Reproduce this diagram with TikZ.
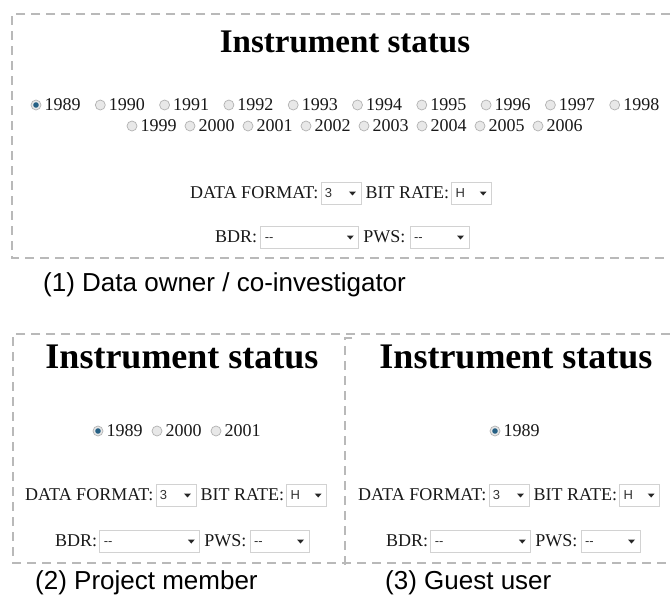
\documentclass[tikz,border=0pt]{standalone}
\usepackage{fontspec}
\setmainfont{Liberation Serif}
\setsansfont{Liberation Sans}
\usetikzlibrary{positioning}
\definecolor{radioblue}{RGB}{38,96,132}

\begin{document}
\begin{tikzpicture}
  [x=1pt, y=-1pt,
   frame/.style={draw=gray!55, line width=1.5pt, dash pattern=on 9pt off 6pt},
   title/.style={font=\bfseries\fontsize{#1}{#1}\selectfont, inner sep=0pt},
   lbl/.style={font=\fontsize{18}{18}\selectfont, inner sep=0pt, text=black!90},
   radio/.style={circle, draw=gray!60, fill=gray!18, line width=.7pt, minimum size=10pt, inner sep=0pt},
   radioon/.style={radio, path picture={\fill[radioblue] (path picture bounding box.center) circle (2.8pt);}},
   sel/.style={draw=gray!35, line width=.8pt, fill=white, minimum height=22pt, inner xsep=4pt, inner ysep=0pt,
     text width=#1, text height=9.5pt, text depth=0pt, font=\sffamily\fontsize{13}{13}\selectfont, text=black!80,
     path picture={\fill[black!85] ([xshift=-12pt, yshift=1.5pt]path picture bounding box.east) -- ++(7pt,0pt) -- ++(-3.5pt,-4pt) -- cycle;}},
   caption/.style={font=\sffamily\fontsize{26}{26}\selectfont, inner sep=0pt, anchor=west}]
  \path[use as bounding box, fill=white] (0,0) rectangle (670,603);

  % dashed screenshot frames
  \draw[frame] (670,14) -- (12,14) -- (12,258) -- (670,258);
  \draw[frame] (670,334) -- (13,334) -- (13,563) -- (670,563);
  \draw[frame] (352,338) -- (345,338) -- (345,566);

  % (1) data owner
  \node[title=33] (ttlA) at (345,42) {Instrument status};
  \node[radioon] (ra1989) at (36,105) {};
  \node[lbl, right=3pt of ra1989] (ya1989) {1989};
  \foreach \yr [count=\i] in {1990,...,1998} {
    \node[radio] (ra\yr) at ({36+64.3*\i},105) {};
    \node[lbl, right=3pt of ra\yr] (ya\yr) {\yr};
  }
  \foreach \yr [count=\i from 0] in {1999,...,2006} {
    \node[radio] (ra\yr) at ({132+58*\i},126) {};
    \node[lbl, right=3pt of ra\yr] (ya\yr) {\yr};
  }
  \node[lbl, anchor=west] (dfA) at (190,193) {DATA FORMAT:};
  \node[sel=32pt, right=2pt of dfA] (fmtA) {3};
  \node[lbl, right=4pt of fmtA] (brA) {BIT RATE:};
  \node[sel=32pt, right=2pt of brA] (rateA) {H};
  \node[lbl, anchor=west] (bdrA) at (215,237) {BDR:};
  \node[sel=90pt, right=3pt of bdrA] (bdrselA) {-{}-};
  \node[lbl, right=4pt of bdrselA] (pwsA) {PWS:};
  \node[sel=51pt, right=4pt of pwsA] (pwsselA) {-{}-};
  \node[caption] (capA) at (43,285) {(1) Data owner / co-investigator};

  % (2) project member
  \node[title=36] (ttlB) at (182,357) {Instrument status};
  \node[radioon] (rb1989) at (98,431) {};
  \node[lbl, right=3pt of rb1989] (yb1989) {1989};
  \node[radio] (rb2000) at (157,431) {};
  \node[lbl, right=3pt of rb2000] (yb2000) {2000};
  \node[radio] (rb2001) at (216,431) {};
  \node[lbl, right=3pt of rb2001] (yb2001) {2001};
  \node[lbl, anchor=west] (dfB) at (25,495) {DATA FORMAT:};
  \node[sel=32pt, right=2pt of dfB] (fmtB) {3};
  \node[lbl, right=4pt of fmtB] (brB) {BIT RATE:};
  \node[sel=32pt, right=2pt of brB] (rateB) {H};
  \node[lbl, anchor=west] (bdrB) at (55,541) {BDR:};
  \node[sel=92pt, right=2pt of bdrB] (bdrselB) {-{}-};
  \node[lbl, right=4pt of bdrselB] (pwsB) {PWS:};
  \node[sel=51pt, right=3pt of pwsB] (pwsselB) {-{}-};
  \node[caption] (capB) at (35,583) {(2) Project member};

  % (3) guest user
  \node[title=36] (ttlC) at (516,357) {Instrument status};
  \node[radioon] (rc1989) at (495,431) {};
  \node[lbl, right=3pt of rc1989] (yc1989) {1989};
  \node[lbl, anchor=west] (dfC) at (358,495) {DATA FORMAT:};
  \node[sel=32pt, right=2pt of dfC] (fmtC) {3};
  \node[lbl, right=4pt of fmtC] (brC) {BIT RATE:};
  \node[sel=32pt, right=2pt of brC] (rateC) {H};
  \node[lbl, anchor=west] (bdrC) at (386,541) {BDR:};
  \node[sel=92pt, right=2pt of bdrC] (bdrselC) {-{}-};
  \node[lbl, right=4pt of bdrselC] (pwsC) {PWS:};
  \node[sel=51pt, right=3pt of pwsC] (pwsselC) {-{}-};
  \node[caption] (capC) at (385,583) {(3) Guest user};
\end{tikzpicture}
\end{document}
